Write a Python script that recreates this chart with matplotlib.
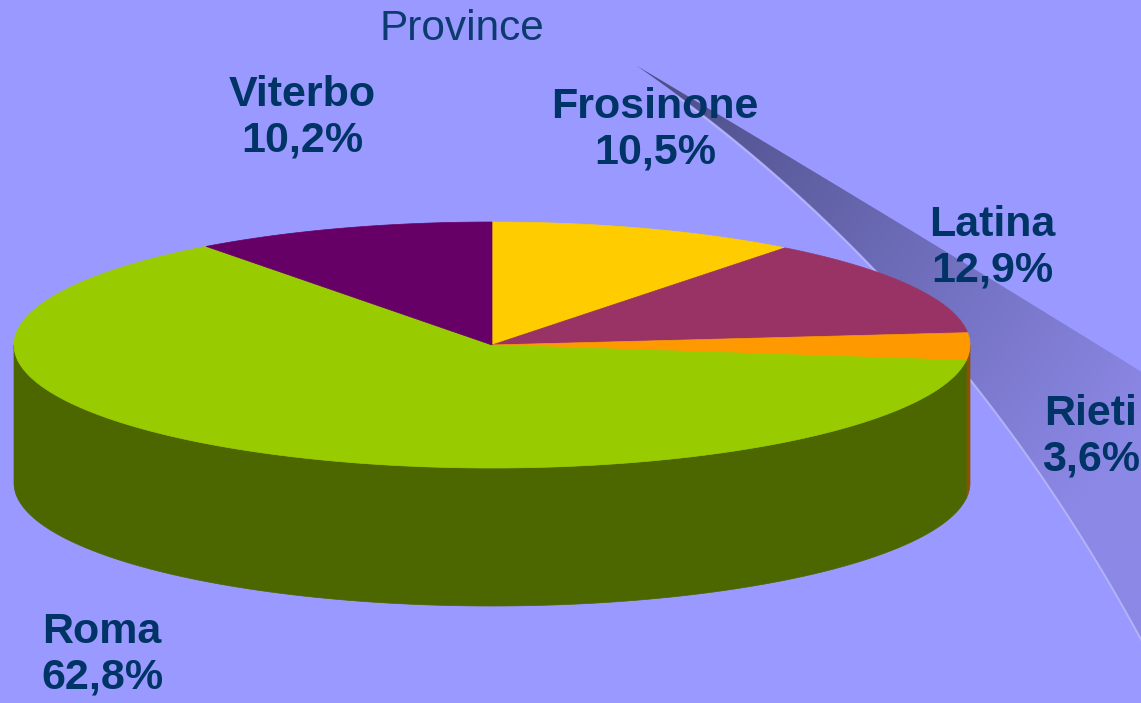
import numpy as np
import matplotlib
matplotlib.use('Agg')
import matplotlib.pyplot as plt
from matplotlib.patches import Polygon, PathPatch
from matplotlib.path import Path
from matplotlib.colors import to_rgb

plt.rcParams['font.family'] = ['Liberation Sans', 'DejaVu Sans']

# dati
province = ['Frosinone', 'Latina', 'Rieti', 'Roma', 'Viterbo']
percentuali = [10.5, 12.9, 3.6, 62.8, 10.2]
colori = ['#FFCC00', '#993366', '#FF9900', '#99CC00', '#660066']
colori_lato = ['#806600', '#4C1A33', '#8C5200', '#4C6600', '#330033']
etichette = ['10,5%', '12,9%', '3,6%', '62,8%', '10,2%']
pos_etichette = [(655, 130), (992, 248), (1091, 437), (102, 655), (302, 118)]

sfondo = '#9999FF'
blu = '#003366'

fig = plt.figure(figsize=(11.41, 7.03), dpi=100)
fig.patch.set_facecolor(sfondo)
ax = fig.add_axes([0, 0, 1, 1])
ax.set_xlim(0, 1141)
ax.set_ylim(703, 0)
ax.axis('off')

# nastro decorativo sulla destra
def bezier(p0, c, p2, n=80):
    t = np.linspace(0, 1, n)[:, None]
    return (1 - t) ** 2 * np.array(p0) + 2 * (1 - t) * t * np.array(c) + t ** 2 * np.array(p2)

punta = (637, 66)
bordo_sup = bezier(punta, (880, 210), (1145, 374))
bordo_inf = bezier(punta, (951, 283), (1145, 645))
verts = np.vstack([bordo_sup, bordo_inf[::-1]])
nastro = PathPatch(Path(verts, closed=True), facecolor='none', edgecolor='none')
ax.add_patch(nastro)

xs = np.linspace(600, 1141, 300)
ys = np.linspace(40, 703, 300)
X, Y = np.meshgrid(xs, ys)
t = np.clip(np.hypot(X - punta[0], Y - punta[1]) / 620, 0, 1)
c0 = np.array(to_rgb('#4A4C84'))
c1 = np.array(to_rgb('#8C88E6'))
img = c0[None, None, :] * (1 - t[..., None]) + c1[None, None, :] * t[..., None]
im = ax.imshow(img, extent=(600, 1141, 703, 40), origin='upper', zorder=1, aspect='auto')
im.set_clip_path(nastro)
ax.plot(bordo_inf[5:, 0], bordo_inf[5:, 1] + 2, color='#B4B4F4', lw=1.3, zorder=1.5)

# torta 3D
cx, cy, rx, ry, h = 492, 345, 478, 123, 138

def ellisse(a1, a2, dy=0, n=120):
    a = np.radians(np.linspace(a1, a2, n))
    return np.column_stack([cx + rx * np.cos(a), cy - ry * np.sin(a) + dy])

inizio = 90.0
angoli = []
for p in percentuali:
    fine = inizio - 360 * p / 100
    angoli.append((fine, inizio))
    inizio = fine

# lati visibili (parte frontale, 180..360 gradi)
for (a1, a2), col in zip(angoli, colori_lato):
    for off in (0, 360, -360):
        lo = max(a1 + off, 180)
        hi = min(a2 + off, 360)
        if hi > lo:
            sup = ellisse(lo, hi)
            inf = ellisse(hi, lo, dy=h)
            ax.add_patch(Polygon(np.vstack([sup, inf]), closed=True,
                                 facecolor=col, edgecolor=col, lw=0.5, zorder=2))

# facce superiori
for (a1, a2), col in zip(angoli, colori):
    arco = ellisse(a1, a2, n=200)
    ax.add_patch(Polygon(np.vstack([[cx, cy], arco]), closed=True,
                         facecolor=col, edgecolor=col, lw=0.5, zorder=3))

# testi
ax.text(462, 29, 'Province', ha='center', va='center', fontsize=30.5,
        color='#0D3B70', zorder=5)
for nome, lab, (x, y) in zip(province, etichette, pos_etichette):
    ax.text(x, y, f'{nome}\n{lab}', ha='center', va='center', fontsize=31,
            fontweight='bold', color=blu, linespacing=1.18, zorder=5)

fig.savefig('out.png', dpi=100, facecolor=sfondo)
